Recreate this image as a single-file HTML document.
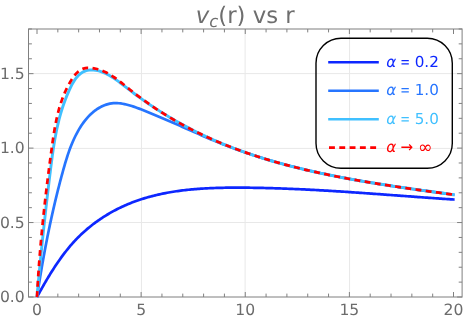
<!DOCTYPE html>
<html><head><meta charset="utf-8"><title>v_c(r) vs r</title>
<style>html,body{margin:0;padding:0;background:#fff;}svg{display:block;will-change:transform;}text{text-rendering:geometricPrecision;}</style>
</head><body>
<svg width="476" height="320" viewBox="0 0 476 320">
<rect width="476" height="320" fill="#fff"/>
<line x1="141.45" y1="29.0" x2="141.45" y2="297.0" stroke="#e8e8e8" stroke-width="1"/>
<line x1="245.10" y1="29.0" x2="245.10" y2="297.0" stroke="#e8e8e8" stroke-width="1"/>
<line x1="349.55" y1="29.0" x2="349.55" y2="297.0" stroke="#e8e8e8" stroke-width="1"/>
<line x1="28.5" y1="222.50" x2="462.1" y2="222.50" stroke="#e8e8e8" stroke-width="1"/>
<line x1="28.5" y1="148.40" x2="462.1" y2="148.40" stroke="#e8e8e8" stroke-width="1"/>
<line x1="28.5" y1="73.60" x2="462.1" y2="73.60" stroke="#e8e8e8" stroke-width="1"/>
<rect x="28.5" y="29.0" width="433.6" height="268.0" fill="none" stroke="#7f7f7f" stroke-width="1"/>
<path d="M37.00,297.0v-5M37.00,29.0v5 M57.83,297.0v-3.4M57.83,29.0v3.4 M78.65,297.0v-3.4M78.65,29.0v3.4 M99.47,297.0v-3.4M99.47,29.0v3.4 M120.30,297.0v-3.4M120.30,29.0v3.4 M141.12,297.0v-5M141.12,29.0v5 M161.95,297.0v-3.4M161.95,29.0v3.4 M182.78,297.0v-3.4M182.78,29.0v3.4 M203.60,297.0v-3.4M203.60,29.0v3.4 M224.42,297.0v-3.4M224.42,29.0v3.4 M245.25,297.0v-5M245.25,29.0v5 M266.07,297.0v-3.4M266.07,29.0v3.4 M286.90,297.0v-3.4M286.90,29.0v3.4 M307.72,297.0v-3.4M307.72,29.0v3.4 M328.55,297.0v-3.4M328.55,29.0v3.4 M349.38,297.0v-5M349.38,29.0v5 M370.20,297.0v-3.4M370.20,29.0v3.4 M391.02,297.0v-3.4M391.02,29.0v3.4 M411.85,297.0v-3.4M411.85,29.0v3.4 M432.68,297.0v-3.4M432.68,29.0v3.4 M453.50,297.0v-5M453.50,29.0v5 M28.5,297.00h5M462.1,297.00h-5 M28.5,282.11h3.4M462.1,282.11h-3.4 M28.5,267.22h3.4M462.1,267.22h-3.4 M28.5,252.33h3.4M462.1,252.33h-3.4 M28.5,237.44h3.4M462.1,237.44h-3.4 M28.5,222.55h5M462.1,222.55h-5 M28.5,207.66h3.4M462.1,207.66h-3.4 M28.5,192.77h3.4M462.1,192.77h-3.4 M28.5,177.88h3.4M462.1,177.88h-3.4 M28.5,162.99h3.4M462.1,162.99h-3.4 M28.5,148.10h5M462.1,148.10h-5 M28.5,133.21h3.4M462.1,133.21h-3.4 M28.5,118.32h3.4M462.1,118.32h-3.4 M28.5,103.43h3.4M462.1,103.43h-3.4 M28.5,88.54h3.4M462.1,88.54h-3.4 M28.5,73.65h5M462.1,73.65h-5 M28.5,58.76h3.4M462.1,58.76h-3.4 M28.5,43.87h3.4M462.1,43.87h-3.4 M28.5,28.98h3.4M462.1,28.98h-3.4" stroke="#808080" stroke-width="1" fill="none"/>
<clipPath id="cp"><rect x="28.5" y="29.0" width="433.6" height="269.0"/></clipPath>
<g clip-path="url(#cp)" fill="none" stroke-linejoin="round">
<path d="M37.00,297.00 L37.73,295.67 L38.46,294.33 L39.20,293.00 L39.93,291.66 L40.68,290.32 L41.43,288.99 L42.18,287.66 L42.94,286.32 L43.70,284.99 L44.46,283.66 L45.24,282.33 L46.01,281.00 L46.80,279.67 L47.59,278.35 L48.38,277.03 L49.18,275.71 L49.99,274.39 L50.80,273.08 L51.62,271.77 L52.45,270.47 L53.28,269.16 L54.12,267.87 L54.97,266.57 L55.82,265.28 L56.69,264.00 L57.56,262.72 L58.43,261.44 L59.32,260.18 L60.21,258.91 L61.12,257.66 L62.03,256.41 L62.95,255.16 L63.88,253.92 L64.82,252.69 L65.77,251.47 L66.72,250.26 L67.69,249.05 L68.67,247.86 L69.66,246.67 L70.66,245.49 L71.67,244.32 L72.69,243.16 L73.72,242.02 L74.77,240.88 L75.83,239.75 L76.89,238.64 L77.98,237.54 L79.07,236.45 L80.17,235.37 L81.29,234.30 L82.42,233.24 L83.56,232.20 L84.71,231.17 L85.87,230.15 L87.04,229.15 L88.23,228.15 L89.42,227.17 L90.62,226.20 L91.84,225.25 L93.06,224.30 L94.29,223.37 L95.53,222.45 L96.78,221.55 L98.04,220.65 L99.31,219.77 L100.59,218.90 L101.88,218.05 L103.17,217.21 L104.47,216.38 L105.78,215.56 L107.10,214.76 L108.42,213.97 L109.75,213.19 L111.09,212.43 L112.44,211.68 L113.79,210.94 L115.15,210.22 L116.51,209.51 L117.88,208.82 L119.26,208.13 L120.64,207.46 L122.03,206.81 L123.42,206.17 L124.82,205.54 L126.22,204.93 L127.63,204.33 L129.04,203.74 L130.45,203.17 L131.88,202.61 L133.30,202.06 L134.73,201.53 L136.16,201.01 L137.60,200.50 L139.04,200.00 L140.49,199.52 L141.94,199.05 L143.39,198.59 L144.85,198.14 L146.31,197.71 L147.77,197.29 L149.24,196.88 L150.72,196.48 L152.19,196.09 L153.67,195.71 L155.15,195.34 L156.64,194.99 L158.13,194.64 L159.62,194.31 L161.11,193.99 L162.61,193.67 L164.11,193.37 L165.62,193.07 L167.12,192.79 L168.63,192.51 L170.14,192.25 L171.66,191.99 L173.17,191.75 L174.69,191.51 L176.22,191.28 L177.74,191.06 L179.27,190.85 L180.79,190.64 L182.32,190.45 L183.86,190.26 L185.39,190.08 L186.93,189.91 L188.47,189.75 L190.01,189.59 L191.55,189.44 L193.09,189.30 L194.64,189.17 L196.18,189.04 L197.73,188.92 L199.28,188.80 L200.83,188.70 L202.38,188.59 L203.93,188.50 L205.49,188.41 L207.04,188.33 L208.60,188.25 L210.15,188.18 L211.71,188.11 L213.27,188.05 L214.82,187.99 L216.38,187.94 L217.94,187.89 L219.50,187.85 L221.06,187.81 L222.62,187.78 L224.18,187.75 L225.75,187.72 L227.31,187.70 L228.87,187.68 L230.43,187.67 L231.99,187.66 L233.55,187.65 L235.11,187.65 L236.67,187.64 L238.23,187.65 L239.79,187.65 L241.35,187.66 L242.90,187.66 L244.46,187.68 L246.02,187.69 L247.57,187.70 L249.13,187.72 L250.68,187.74 L252.24,187.76 L253.79,187.78 L255.34,187.81 L256.89,187.84 L258.44,187.86 L259.99,187.89 L261.54,187.93 L263.09,187.96 L264.64,188.00 L266.18,188.03 L267.73,188.07 L269.28,188.11 L270.82,188.16 L272.37,188.20 L273.91,188.25 L275.45,188.29 L277.00,188.34 L278.54,188.39 L280.08,188.44 L281.62,188.50 L283.16,188.55 L284.70,188.61 L286.24,188.67 L287.78,188.73 L289.32,188.79 L290.86,188.85 L292.40,188.91 L293.93,188.98 L295.47,189.04 L297.01,189.11 L298.54,189.18 L300.08,189.25 L301.61,189.32 L303.15,189.40 L304.68,189.47 L306.22,189.55 L307.75,189.62 L309.28,189.70 L310.82,189.78 L312.35,189.86 L313.88,189.94 L315.42,190.02 L316.95,190.11 L318.48,190.19 L320.01,190.28 L321.54,190.36 L323.07,190.45 L324.60,190.54 L326.14,190.63 L327.67,190.72 L329.20,190.81 L330.73,190.90 L332.26,191.00 L333.79,191.09 L335.32,191.19 L336.85,191.28 L338.38,191.38 L339.91,191.47 L341.44,191.57 L342.96,191.67 L344.49,191.77 L346.02,191.87 L347.55,191.97 L349.08,192.07 L350.61,192.18 L352.14,192.28 L353.67,192.38 L355.20,192.49 L356.73,192.59 L358.26,192.70 L359.79,192.80 L361.32,192.91 L362.85,193.02 L364.38,193.12 L365.91,193.23 L367.44,193.34 L368.97,193.45 L370.50,193.56 L372.03,193.67 L373.56,193.78 L375.09,193.89 L376.62,194.00 L378.15,194.11 L379.69,194.22 L381.22,194.33 L382.75,194.44 L384.28,194.55 L385.81,194.67 L387.35,194.78 L388.88,194.89 L390.41,195.00 L391.95,195.12 L393.48,195.23 L395.02,195.34 L396.55,195.45 L398.09,195.57 L399.62,195.68 L401.16,195.79 L402.69,195.91 L404.23,196.02 L405.77,196.13 L407.31,196.24 L408.84,196.36 L410.38,196.47 L411.92,196.58 L413.46,196.70 L415.00,196.81 L416.54,196.92 L418.08,197.03 L419.63,197.14 L421.17,197.25 L422.71,197.37 L424.25,197.48 L425.80,197.59 L427.34,197.70 L428.89,197.81 L430.43,197.92 L431.98,198.02 L433.53,198.13 L435.07,198.24 L436.62,198.35 L438.17,198.46 L439.72,198.56 L441.27,198.67 L442.82,198.78 L444.37,198.88 L445.93,198.99 L447.48,199.09 L449.03,199.19 L450.59,199.30 L452.15,199.40 L453.70,199.50 L454.60,199.56" stroke="#0d27ff" stroke-width="2.7"/>
<path d="M37.00,297.00 L37.28,295.13 L37.57,293.25 L37.85,291.38 L38.14,289.50 L38.44,287.62 L38.73,285.75 L39.03,283.86 L39.33,281.98 L39.64,280.10 L39.95,278.21 L40.26,276.33 L40.57,274.44 L40.89,272.55 L41.21,270.67 L41.53,268.78 L41.86,266.89 L42.18,265.00 L42.52,263.10 L42.85,261.21 L43.19,259.32 L43.53,257.43 L43.87,255.54 L44.22,253.64 L44.57,251.75 L44.93,249.86 L45.28,247.96 L45.64,246.07 L46.01,244.18 L46.37,242.29 L46.74,240.39 L47.12,238.50 L47.49,236.61 L47.87,234.72 L48.26,232.83 L48.64,230.94 L49.03,229.05 L49.43,227.16 L49.82,225.28 L50.22,223.39 L50.63,221.50 L51.03,219.62 L51.45,217.74 L51.86,215.85 L52.28,213.97 L52.70,212.10 L53.12,210.22 L53.55,208.34 L53.99,206.47 L54.42,204.59 L54.86,202.72 L55.30,200.85 L55.75,198.99 L56.20,197.12 L56.66,195.26 L57.12,193.40 L57.58,191.54 L58.04,189.68 L58.51,187.83 L58.99,185.97 L59.46,184.12 L59.94,182.28 L60.43,180.43 L60.92,178.59 L61.41,176.75 L61.91,174.92 L62.41,173.08 L62.91,171.25 L63.42,169.42 L63.93,167.60 L64.45,165.78 L64.98,163.96 L65.51,162.15 L66.06,160.34 L66.62,158.53 L67.19,156.73 L67.78,154.93 L68.38,153.14 L69.00,151.35 L69.64,149.57 L70.31,147.79 L70.99,146.02 L71.70,144.25 L72.44,142.49 L73.20,140.73 L73.99,138.98 L74.81,137.24 L75.67,135.50 L76.55,133.77 L77.48,132.05 L78.43,130.34 L79.43,128.64 L80.46,126.97 L81.53,125.32 L82.64,123.70 L83.78,122.11 L84.97,120.56 L86.21,119.04 L87.48,117.57 L88.80,116.14 L90.16,114.76 L91.57,113.43 L93.02,112.17 L94.53,110.96 L96.08,109.82 L97.67,108.74 L99.32,107.74 L101.00,106.82 L102.72,105.99 L104.47,105.25 L106.24,104.62 L108.03,104.09 L109.83,103.68 L111.63,103.39 L113.44,103.20 L115.26,103.13 L117.08,103.15 L118.91,103.26 L120.74,103.45 L122.58,103.73 L124.41,104.07 L126.25,104.49 L128.09,104.96 L129.93,105.48 L131.77,106.05 L133.60,106.65 L135.44,107.29 L137.27,107.96 L139.10,108.64 L140.92,109.34 L142.74,110.05 L144.56,110.76 L146.37,111.48 L148.18,112.20 L149.98,112.93 L151.78,113.66 L153.57,114.40 L155.36,115.14 L157.15,115.89 L158.93,116.64 L160.71,117.40 L162.49,118.16 L164.26,118.92 L166.03,119.68 L167.80,120.45 L169.57,121.22 L171.33,121.99 L173.10,122.77 L174.86,123.54 L176.61,124.32 L178.37,125.09 L180.13,125.87 L181.88,126.65 L183.63,127.42 L185.38,128.20 L187.14,128.98 L188.89,129.76 L190.64,130.53 L192.39,131.30 L194.13,132.08 L195.88,132.85 L197.63,133.61 L199.38,134.38 L201.13,135.14 L202.88,135.90 L204.64,136.66 L206.39,137.41 L208.14,138.16 L209.90,138.90 L211.66,139.64 L213.41,140.38 L215.17,141.11 L216.94,141.83 L218.70,142.55 L220.47,143.26 L222.24,143.97 L224.01,144.67 L225.78,145.36 L227.56,146.05 L229.34,146.73 L231.12,147.40 L232.91,148.07 L234.70,148.73 L236.49,149.39 L238.28,150.03 L240.08,150.67 L241.88,151.31 L243.68,151.93 L245.48,152.56 L247.29,153.17 L249.10,153.78 L250.91,154.38 L252.72,154.98 L254.54,155.57 L256.36,156.15 L258.18,156.73 L260.00,157.30 L261.82,157.87 L263.65,158.43 L265.48,158.99 L267.31,159.54 L269.15,160.08 L270.98,160.62 L272.82,161.15 L274.66,161.68 L276.50,162.20 L278.34,162.72 L280.19,163.23 L282.04,163.73 L283.89,164.24 L285.74,164.73 L287.59,165.22 L289.45,165.71 L291.30,166.19 L293.16,166.66 L295.02,167.13 L296.88,167.60 L298.74,168.06 L300.61,168.52 L302.47,168.97 L304.34,169.42 L306.21,169.86 L308.08,170.30 L309.95,170.73 L311.82,171.16 L313.70,171.58 L315.57,172.00 L317.45,172.42 L319.33,172.83 L321.21,173.24 L323.09,173.64 L324.97,174.04 L326.85,174.44 L328.73,174.83 L330.62,175.22 L332.50,175.60 L334.39,175.98 L336.28,176.36 L338.16,176.73 L340.05,177.10 L341.94,177.47 L343.83,177.83 L345.73,178.19 L347.62,178.55 L349.51,178.90 L351.40,179.25 L353.30,179.59 L355.19,179.94 L357.09,180.28 L358.98,180.61 L360.88,180.95 L362.78,181.28 L364.67,181.61 L366.57,181.93 L368.47,182.25 L370.37,182.57 L372.26,182.89 L374.16,183.20 L376.06,183.51 L377.96,183.82 L379.86,184.13 L381.76,184.43 L383.66,184.73 L385.56,185.03 L387.46,185.33 L389.36,185.63 L391.26,185.92 L393.15,186.21 L395.05,186.50 L396.95,186.79 L398.85,187.07 L400.75,187.35 L402.65,187.63 L404.55,187.91 L406.45,188.19 L408.34,188.47 L410.24,188.74 L412.14,189.01 L414.03,189.28 L415.93,189.55 L417.82,189.82 L419.72,190.09 L421.61,190.36 L423.51,190.62 L425.40,190.88 L427.29,191.15 L429.18,191.41 L431.08,191.67 L432.97,191.93 L434.86,192.18 L436.74,192.44 L438.63,192.70 L440.52,192.95 L442.40,193.21 L444.29,193.46 L446.17,193.72 L448.06,193.97 L449.94,194.22 L451.82,194.48 L453.70,194.73 L454.59,194.85" stroke="#2675ff" stroke-width="2.7"/>
<path d="M37.00,297.00 L37.18,294.91 L37.37,292.82 L37.56,290.73 L37.75,288.64 L37.94,286.54 L38.13,284.45 L38.32,282.35 L38.52,280.26 L38.71,278.16 L38.91,276.06 L39.11,273.96 L39.31,271.86 L39.51,269.76 L39.71,267.66 L39.91,265.56 L40.12,263.46 L40.32,261.35 L40.53,259.25 L40.74,257.15 L40.95,255.04 L41.16,252.94 L41.37,250.83 L41.59,248.73 L41.80,246.62 L42.02,244.51 L42.24,242.41 L42.46,240.30 L42.68,238.19 L42.90,236.09 L43.12,233.98 L43.35,231.87 L43.57,229.77 L43.80,227.66 L44.03,225.55 L44.26,223.45 L44.49,221.34 L44.72,219.23 L44.95,217.13 L45.18,215.02 L45.42,212.92 L45.66,210.81 L45.89,208.71 L46.13,206.61 L46.37,204.50 L46.61,202.40 L46.85,200.30 L47.10,198.20 L47.34,196.10 L47.59,194.00 L47.83,191.90 L48.08,189.80 L48.33,187.70 L48.58,185.61 L48.83,183.51 L49.09,181.42 L49.34,179.32 L49.59,177.23 L49.85,175.14 L50.11,173.05 L50.36,170.96 L50.62,168.87 L50.88,166.79 L51.15,164.70 L51.41,162.62 L51.68,160.54 L51.96,158.46 L52.24,156.38 L52.52,154.30 L52.82,152.22 L53.12,150.15 L53.43,148.08 L53.75,146.01 L54.08,143.94 L54.42,141.87 L54.77,139.80 L55.14,137.74 L55.52,135.67 L55.91,133.61 L56.32,131.55 L56.75,129.50 L57.19,127.44 L57.65,125.39 L58.13,123.34 L58.63,121.29 L59.14,119.24 L59.68,117.19 L60.24,115.15 L60.83,113.11 L61.43,111.07 L62.06,109.04 L62.72,107.00 L63.40,104.97 L64.11,102.94 L64.84,100.91 L65.60,98.89 L66.39,96.87 L67.22,94.85 L68.07,92.83 L68.95,90.81 L69.87,88.80 L70.82,86.82 L71.82,84.86 L72.87,82.97 L73.98,81.13 L75.15,79.39 L76.39,77.74 L77.70,76.21 L79.09,74.82 L80.57,73.57 L82.14,72.48 L83.80,71.58 L85.57,70.87 L87.44,70.37 L89.40,70.07 L91.41,69.95 L93.46,70.01 L95.52,70.24 L97.58,70.62 L99.61,71.15 L101.63,71.82 L103.62,72.60 L105.60,73.49 L107.55,74.48 L109.48,75.55 L111.38,76.69 L113.25,77.89 L115.09,79.13 L116.90,80.40 L118.68,81.70 L120.43,83.00 L122.14,84.30 L123.82,85.59 L125.49,86.88 L127.14,88.16 L128.78,89.44 L130.43,90.71 L132.09,91.97 L133.76,93.23 L135.43,94.47 L137.12,95.72 L138.81,96.95 L140.50,98.18 L142.21,99.39 L143.92,100.60 L145.65,101.81 L147.38,103.00 L149.11,104.19 L150.86,105.37 L152.61,106.54 L154.36,107.70 L156.13,108.86 L157.90,110.00 L159.68,111.14 L161.47,112.27 L163.26,113.39 L165.05,114.50 L166.86,115.60 L168.67,116.70 L170.49,117.78 L172.31,118.85 L174.14,119.92 L175.97,120.98 L177.81,122.02 L179.66,123.06 L181.51,124.09 L183.36,125.11 L185.22,126.11 L187.09,127.11 L188.96,128.10 L190.84,129.08 L192.72,130.05 L194.60,131.00 L196.49,131.95 L198.39,132.89 L200.29,133.81 L202.19,134.73 L204.10,135.63 L206.01,136.53 L207.92,137.41 L209.84,138.28 L211.77,139.15 L213.69,140.00 L215.62,140.84 L217.56,141.68 L219.50,142.50 L221.44,143.31 L223.39,144.12 L225.34,144.91 L227.29,145.70 L229.25,146.47 L231.21,147.24 L233.17,148.00 L235.14,148.74 L237.11,149.48 L239.08,150.21 L241.06,150.93 L243.04,151.65 L245.03,152.35 L247.01,153.05 L249.00,153.73 L251.00,154.41 L252.99,155.08 L254.99,155.74 L256.99,156.40 L259.00,157.04 L261.01,157.68 L263.02,158.31 L265.03,158.93 L267.05,159.54 L269.07,160.15 L271.09,160.75 L273.11,161.34 L275.14,161.93 L277.17,162.50 L279.20,163.07 L281.23,163.64 L283.27,164.19 L285.30,164.74 L287.34,165.29 L289.39,165.82 L291.43,166.35 L293.48,166.87 L295.53,167.39 L297.58,167.90 L299.63,168.40 L301.69,168.90 L303.74,169.39 L305.80,169.88 L307.86,170.36 L309.92,170.83 L311.99,171.30 L314.05,171.76 L316.12,172.22 L318.19,172.67 L320.26,173.12 L322.33,173.56 L324.40,173.99 L326.47,174.42 L328.55,174.85 L330.63,175.27 L332.70,175.69 L334.78,176.10 L336.86,176.51 L338.94,176.91 L341.02,177.31 L343.11,177.70 L345.19,178.09 L347.28,178.47 L349.36,178.86 L351.45,179.23 L353.54,179.61 L355.62,179.98 L357.71,180.34 L359.80,180.70 L361.89,181.06 L363.98,181.42 L366.07,181.77 L368.16,182.12 L370.26,182.46 L372.35,182.81 L374.44,183.15 L376.53,183.48 L378.62,183.82 L380.72,184.15 L382.81,184.48 L384.90,184.80 L387.00,185.13 L389.09,185.45 L391.18,185.77 L393.27,186.08 L395.37,186.40 L397.46,186.71 L399.55,187.02 L401.64,187.33 L403.73,187.64 L405.82,187.94 L407.92,188.25 L410.01,188.55 L412.09,188.85 L414.18,189.15 L416.27,189.45 L418.36,189.75 L420.45,190.04 L422.53,190.34 L424.62,190.63 L426.70,190.93 L428.79,191.22 L430.87,191.51 L432.95,191.81 L435.03,192.10 L437.11,192.39 L439.19,192.68 L441.26,192.98 L443.34,193.27 L445.41,193.56 L447.49,193.85 L449.56,194.14 L451.63,194.44 L453.70,194.73 L454.59,194.86" stroke="#40c0ff" stroke-width="2.9"/>
<path d="M37.00,297.00 L37.11,294.86 L37.23,292.72 L37.34,290.58 L37.47,288.44 L37.59,286.30 L37.72,284.17 L37.85,282.03 L37.98,279.90 L38.12,277.77 L38.26,275.64 L38.41,273.51 L38.55,271.39 L38.70,269.26 L38.86,267.14 L39.01,265.02 L39.17,262.89 L39.33,260.77 L39.50,258.66 L39.67,256.54 L39.84,254.42 L40.01,252.30 L40.19,250.19 L40.37,248.07 L40.55,245.96 L40.73,243.84 L40.92,241.73 L41.11,239.62 L41.31,237.51 L41.50,235.40 L41.70,233.29 L41.90,231.18 L42.11,229.07 L42.32,226.96 L42.53,224.85 L42.74,222.75 L42.95,220.64 L43.17,218.53 L43.39,216.42 L43.61,214.32 L43.84,212.21 L44.07,210.10 L44.30,208.00 L44.53,205.89 L44.76,203.79 L45.00,201.68 L45.24,199.57 L45.48,197.47 L45.73,195.36 L45.97,193.25 L46.22,191.15 L46.47,189.04 L46.73,186.93 L46.98,184.82 L47.24,182.71 L47.50,180.60 L47.76,178.49 L48.03,176.38 L48.29,174.27 L48.56,172.16 L48.83,170.05 L49.11,167.94 L49.38,165.82 L49.66,163.71 L49.94,161.59 L50.22,159.48 L50.50,157.36 L50.79,155.24 L51.07,153.12 L51.36,151.00 L51.65,148.88 L51.94,146.76 L52.24,144.64 L52.54,142.52 L52.84,140.39 L53.16,138.27 L53.48,136.15 L53.81,134.03 L54.15,131.92 L54.50,129.80 L54.87,127.70 L55.25,125.59 L55.66,123.49 L56.07,121.40 L56.51,119.31 L56.97,117.22 L57.46,115.15 L57.96,113.08 L58.49,111.02 L59.05,108.97 L59.64,106.92 L60.26,104.89 L60.91,102.87 L61.59,100.86 L62.30,98.86 L63.05,96.87 L63.84,94.89 L64.66,92.93 L65.53,90.98 L66.43,89.04 L67.38,87.12 L68.38,85.22 L69.41,83.33 L70.50,81.45 L71.63,79.60 L72.82,77.79 L74.08,76.06 L75.41,74.42 L76.82,72.91 L78.32,71.54 L79.91,70.36 L81.62,69.38 L83.44,68.63 L85.38,68.14 L87.42,67.89 L89.53,67.86 L91.67,68.01 L93.80,68.31 L95.90,68.73 L97.96,69.26 L99.97,69.89 L101.93,70.61 L103.86,71.42 L105.75,72.31 L107.61,73.27 L109.44,74.31 L111.24,75.40 L113.01,76.55 L114.76,77.75 L116.50,79.00 L118.21,80.28 L119.92,81.59 L121.61,82.93 L123.30,84.28 L124.98,85.65 L126.66,87.02 L128.34,88.39 L130.03,89.75 L131.72,91.10 L133.42,92.44 L135.12,93.77 L136.84,95.09 L138.55,96.39 L140.28,97.68 L142.01,98.96 L143.74,100.23 L145.48,101.48 L147.23,102.73 L148.99,103.96 L150.75,105.18 L152.51,106.39 L154.28,107.58 L156.06,108.77 L157.84,109.94 L159.63,111.10 L161.43,112.25 L163.23,113.39 L165.03,114.52 L166.85,115.64 L168.66,116.74 L170.49,117.84 L172.31,118.92 L174.15,119.99 L175.99,121.05 L177.83,122.10 L179.68,123.14 L181.53,124.17 L183.39,125.18 L185.26,126.19 L187.13,127.19 L189.00,128.17 L190.88,129.15 L192.77,130.11 L194.66,131.06 L196.55,132.00 L198.45,132.94 L200.36,133.86 L202.26,134.77 L204.18,135.67 L206.10,136.56 L208.02,137.44 L209.95,138.31 L211.88,139.18 L213.81,140.03 L215.75,140.87 L217.70,141.70 L219.65,142.52 L221.60,143.34 L223.56,144.14 L225.52,144.93 L227.48,145.72 L229.45,146.49 L231.43,147.26 L233.40,148.02 L235.38,148.77 L237.37,149.51 L239.36,150.24 L241.35,150.96 L243.34,151.68 L245.34,152.38 L247.35,153.08 L249.35,153.77 L251.36,154.45 L253.37,155.12 L255.39,155.79 L257.41,156.44 L259.43,157.09 L261.45,157.73 L263.48,158.37 L265.51,158.99 L267.55,159.61 L269.59,160.22 L271.62,160.83 L273.67,161.42 L275.71,162.01 L277.76,162.59 L279.81,163.17 L281.86,163.74 L283.92,164.30 L285.98,164.85 L288.04,165.40 L290.10,165.94 L292.16,166.48 L294.23,167.00 L296.30,167.52 L298.37,168.04 L300.45,168.55 L302.52,169.05 L304.60,169.55 L306.68,170.04 L308.76,170.53 L310.84,171.01 L312.93,171.48 L315.01,171.95 L317.10,172.41 L319.19,172.87 L321.28,173.32 L323.37,173.77 L325.47,174.21 L327.56,174.65 L329.66,175.08 L331.76,175.50 L333.86,175.93 L335.96,176.34 L338.06,176.76 L340.16,177.16 L342.26,177.57 L344.37,177.97 L346.47,178.36 L348.58,178.75 L350.68,179.14 L352.79,179.52 L354.90,179.90 L357.01,180.27 L359.12,180.64 L361.23,181.01 L363.34,181.37 L365.45,181.73 L367.56,182.09 L369.67,182.44 L371.78,182.79 L373.89,183.14 L376.00,183.48 L378.11,183.82 L380.22,184.16 L382.34,184.49 L384.45,184.82 L386.56,185.15 L388.67,185.47 L390.78,185.80 L392.89,186.12 L395.00,186.44 L397.11,186.75 L399.22,187.07 L401.33,187.38 L403.43,187.69 L405.54,188.00 L407.65,188.30 L409.75,188.61 L411.86,188.91 L413.96,189.21 L416.06,189.51 L418.17,189.81 L420.27,190.10 L422.37,190.40 L424.47,190.69 L426.56,190.99 L428.66,191.28 L430.75,191.57 L432.85,191.86 L434.94,192.15 L437.03,192.44 L439.12,192.72 L441.21,193.01 L443.29,193.30 L445.38,193.58 L447.46,193.87 L449.54,194.16 L451.62,194.44 L453.70,194.73 L454.59,194.85" stroke="#ff0000" stroke-width="2.75" stroke-dasharray="5.9 4.4"/>
</g>
<g font-family="'DejaVu Sans', 'Liberation Sans', sans-serif" font-size="15.6" fill="#6c6c6c">
<text x="37.00" y="315.0" text-anchor="middle">0</text>
<text x="141.12" y="315.0" text-anchor="middle">5</text>
<text x="245.25" y="315.0" text-anchor="middle">10</text>
<text x="349.38" y="315.0" text-anchor="middle">15</text>
<text x="453.50" y="315.0" text-anchor="middle">20</text>
<text x="24.7" y="302.00" text-anchor="end">0.0</text>
<text x="24.7" y="227.55" text-anchor="end">0.5</text>
<text x="24.7" y="153.10" text-anchor="end">1.0</text>
<text x="24.7" y="78.65" text-anchor="end">1.5</text>
</g>
<text x="245.2" y="22.8" text-anchor="middle" font-family="'DejaVu Sans', 'Liberation Sans', sans-serif" font-size="22.8" fill="#6e6e6e"><tspan font-style="italic">v</tspan><tspan font-style="italic" font-size="16.5" dy="4.4">c</tspan><tspan dy="-4.4">(r) vs r</tspan></text>
<rect x="316.0" y="38.2" width="136.3" height="130.05" rx="25" ry="25" fill="none" stroke="#000" stroke-width="1.4"/>
<g font-family="'DejaVu Sans', 'Liberation Sans', sans-serif" font-size="15.2">
<line x1="328.2" y1="62.2" x2="378.8" y2="62.2" stroke="#0d27ff" stroke-width="2.6"/>
<g fill="#0d27ff">
<text x="386.3" y="66.8" font-style="italic">α</text>
<text transform="translate(400.3,66.8) scale(0.77,1)">=</text>
<text x="414.7" y="66.8">0.2</text>
</g>
<line x1="328.2" y1="90.7" x2="378.8" y2="90.7" stroke="#2675ff" stroke-width="2.6"/>
<g fill="#2675ff">
<text x="386.3" y="95.3" font-style="italic">α</text>
<text transform="translate(400.3,95.3) scale(0.77,1)">=</text>
<text x="414.7" y="95.3">1.0</text>
</g>
<line x1="328.2" y1="119.2" x2="378.8" y2="119.2" stroke="#40c0ff" stroke-width="2.6"/>
<g fill="#40c0ff">
<text x="386.3" y="123.8" font-style="italic">α</text>
<text transform="translate(400.3,123.8) scale(0.77,1)">=</text>
<text x="414.7" y="123.8">5.0</text>
</g>
<line x1="329" y1="147.6" x2="378.5" y2="147.6" stroke="#ff0000" stroke-width="2.75" stroke-dasharray="5.9 4.4"/>
<g fill="#ff0000">
<text x="386.3" y="152.2" font-style="italic">α</text>
<text x="400.5" y="152.2">→</text>
<text x="418.0" y="152.79999999999998" font-size="17.5">∞</text>
</g>
</g>
</svg>
</body></html>
